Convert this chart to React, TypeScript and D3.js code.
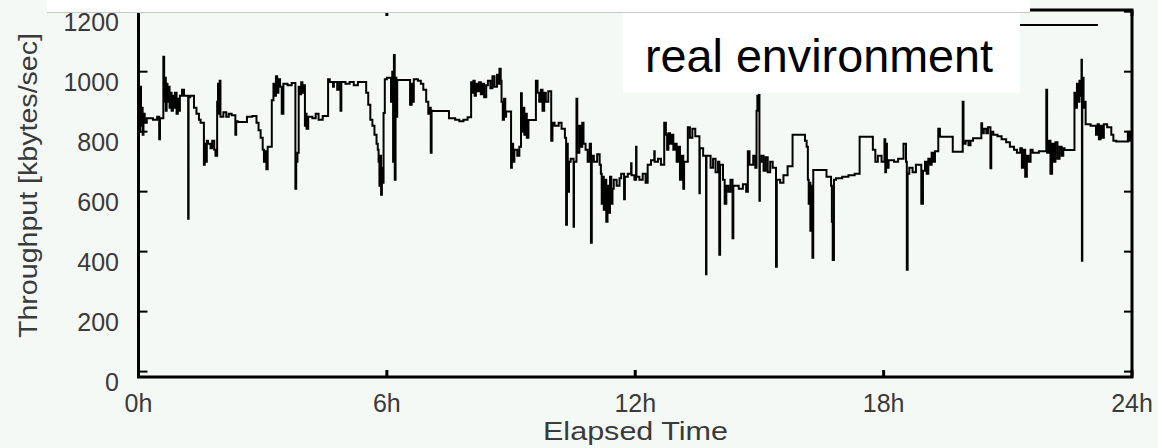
import React from "react";
import * as d3 from "d3";

// Throughput samples: [elapsed hours, kbytes/sec]
const morning: [number, number][] = [
  [0.00,900],[0.02,800],[0.04,950],[0.06,820],[0.08,880],[0.10,790],[0.12,860],[0.15,830],[0.20,845],[0.35,840],[0.45,850],[0.50,775],[0.52,845],
  [0.60,1050],[0.62,900],[0.64,980],[0.66,870],[0.68,960],[0.70,900],[0.72,950],[0.75,880],[0.78,930],[0.80,870],[0.83,920],[0.86,880],[0.88,930],[0.92,860],[0.95,910],[0.98,870],[1.00,920],
  [1.05,940],[1.10,920],[1.20,510],[1.21,915],[1.25,920],[1.34,880],[1.40,860],[1.46,840],[1.50,830],[1.58,690],[1.60,760],[1.62,700],[1.65,770],[1.68,760],[1.74,745],[1.78,770],[1.83,740],[1.86,720],
  [1.90,900],[1.92,960],[1.94,860],[1.96,970],[1.98,850],[2.05,865],[2.12,850],[2.18,860],[2.25,855],[2.34,790],[2.36,835],[2.40,832],[2.62,850],[2.75,852],[2.85,830],[2.90,805],[2.95,780],
  [3.00,740],[3.03,700],[3.06,735],[3.09,675],[3.12,750],[3.22,905],[3.26,960],[3.29,920],[3.32,985],[3.35,930],[3.38,975],[3.42,950],[3.46,860],[3.50,960],[3.60,955],[3.70,962],
  [3.79,610],[3.81,700],[3.84,730],[3.87,950],[3.90,925],[3.93,965],[3.96,930],[3.99,955],[4.02,820],[4.04,860],[4.06,810],[4.10,850],[4.20,845],[4.28,860],[4.35,840],[4.45,852],
  [4.58,975],[4.62,966],[4.70,950],[4.72,966],[4.80,940],[4.85,966],[4.88,870],[4.90,966],[5.00,960],[5.10,966],[5.20,955],[5.30,966],[5.50,930],[5.55,890],[5.60,840],[5.65,820],
  [5.70,790],[5.75,760],[5.78,740],[5.80,700],[5.82,620],[5.84,720],[5.86,590],[5.88,680],[5.90,630],[5.92,862],[5.95,975],[6.00,980],[6.10,900],[6.13,1000],[6.15,700],[6.17,1056],[6.19,640],[6.21,980],[6.23,850],
  [6.25,972],[6.56,890],[6.60,960],[6.62,900],[6.65,975],[6.75,970],[6.82,960],[6.88,940],[6.95,900],[7.00,860],[7.04,880],[7.06,730],[7.08,870],[7.10,869],[7.50,845],[7.65,840],[7.75,835],[7.85,840],[7.95,848],
];

const midday: [number, number][] = [
  [8.035,965],[8.06,930],[8.09,970],[8.12,920],[8.15,960],[8.19,935],[8.23,965],[8.27,925],[8.31,960],[8.35,915],[8.40,955],[8.44,970],[8.50,945],[8.55,985],[8.60,950],[8.66,990],[8.70,960],[8.72,1010],[8.75,970],
  [8.77,900],[8.80,840],[8.83,910],[8.86,850],[8.88,867],[9.00,680],[9.02,760],[9.05,700],[9.08,740],[9.15,720],[9.20,750],[9.24,928],[9.26,800],[9.29,880],[9.32,790],[9.35,860],[9.38,780],[9.42,839],
  [9.60,970],[9.64,930],[9.68,900],[9.72,940],[9.76,870],[9.80,930],[9.84,900],[9.90,935],[9.97,770],[10.00,830],[10.05,820],[10.15,830],[10.22,810],[10.30,780],[10.33,490],[10.35,760],[10.37,600],[10.40,700],
  [10.44,710],[10.51,483],[10.52,700],[10.58,910],[10.60,730],[10.65,820],[10.68,750],[10.72,830],[10.75,760],[10.80,740],[10.85,700],[10.90,760],[10.93,430],[10.95,720],[11.00,700],[11.08,725],[11.14,690],
  [11.17,660],[11.19,560],[11.21,650],[11.24,540],[11.27,640],[11.30,500],[11.33,620],[11.36,530],[11.39,650],[11.42,560],[11.45,610],[11.48,640],[11.55,620],[11.62,645],[11.66,660],[11.73,575],[11.75,650],
  [11.82,660],[11.90,695],[11.91,655],[11.98,640],[12.02,750],[12.03,650],[12.10,640],[12.18,660],[12.25,630],[12.30,690],[12.38,705],[12.46,735],[12.47,700],[12.55,710],[12.62,690],
  [12.70,830],[12.74,790],[12.77,740],[12.80,795],[12.84,760],[12.88,790],[12.92,740],[12.96,760],[13.00,700],[13.04,750],[13.08,640],[13.12,720],[13.16,610],[13.18,700],[13.27,815],[13.32,780],[13.38,810],[13.45,785],
  [13.55,595],[13.56,745],[13.64,720],[13.71,325],[13.72,720],[13.82,680],[13.88,710],[13.94,665],[14.00,700],[14.03,390],[14.05,690],[14.12,640],[14.16,560],[14.20,620],[14.25,600],[14.30,640],[14.35,445],[14.37,620],
  [14.50,610],[14.60,625],[14.68,600],[14.72,735],[14.76,690],[14.85,720],[14.90,680],[14.93,870],[14.95,920],[14.97,870],[14.99,922],[15.00,570],[15.01,700],[15.05,720],[15.10,670],[15.15,715],[15.20,665],
  [15.26,700],[15.32,680],[15.40,350],[15.42,640],[15.50,630],[15.58,655],[15.68,685],[15.80,790],
];

const evening: [number, number][] = [
  [16.10,770],[16.14,750],[16.17,640],[16.19,560],[16.21,630],[16.23,470],[16.25,620],[16.28,380],[16.30,672],[16.62,650],[16.73,620],[16.75,500],[16.77,372],[16.80,640],[16.85,645],[17.00,650],[17.15,655],[17.30,660],
  [17.42,783],[17.74,740],[17.80,700],[17.86,720],[17.95,700],[18.02,775],[18.04,665],[18.06,760],[18.08,680],[18.12,705],[18.25,700],[18.35,710],[18.48,760],[18.54,700],[18.56,340],[18.58,660],[18.62,680],[18.70,665],[18.78,690],
  [18.91,560],[18.95,670],[19.00,700],[19.04,660],[19.08,710],[19.12,690],[19.16,730],[19.20,700],[19.24,735],[19.32,810],[19.36,783],[19.67,733],[19.91,900],[19.93,760],[19.98,770],[20.05,755],[20.10,770],[20.16,778],
  [20.36,828],[20.38,795],[20.42,810],[20.48,795],[20.52,815],[20.58,678],[20.60,800],[20.65,790],[20.75,785],[20.85,775],[20.96,765],[21.05,750],[21.15,740],[21.22,730],[21.30,745],[21.34,680],[21.38,740],[21.42,650],
  [21.46,720],[21.50,700],[21.55,740],[21.60,730],[21.75,735],[21.93,940],[21.95,730],[21.99,770],[22.03,660],[22.07,760],[22.11,700],[22.15,765],[22.20,710],[22.25,750],[22.30,720],[22.34,745],[22.37,739],
  [22.61,930],[22.64,880],[22.67,960],[22.70,900],[22.73,970],[22.76,920],[22.78,1040],[22.79,370],[22.80,980],[22.83,880],[22.85,900],[22.88,825],[23.00,820],[23.13,790],[23.17,825],[23.20,775],[23.24,820],[23.28,780],
  [23.32,825],[23.40,815],[23.50,790],[23.55,770],[23.62,767],[23.90,800],[23.93,770],[23.96,795],[23.98,780],[24.00,780],
];

const yTicks = [0, 200, 400, 600, 800, 1000, 1200];
const xTicks = [0, 6, 12, 18, 24];
const xTickLabels = ["0h", "6h", "12h", "18h", "24h"];
const xTitle = "Elapsed Time";
const yTitle = "Throughput [kbytes/sec]";
const seriesLabel = "real environment";

const W = 1158;
const H = 448;
const BG = "#f5f9f6";
const LABEL = "#3a3a3a";
const FONT = "'Liberation Sans', Arial, Helvetica, sans-serif";

export default function App() {
  const x = d3.scaleLinear().domain([0, 24]).range([138.5, 1132]);
  const y = d3.scaleLinear().domain([-18, 1200]).range([377, 11.7]);
  const data = [...morning, ...midday, ...evening];
  const line = d3
    .line<[number, number]>()
    .x((d) => x(d[0]))
    .y((d) => y(d[1]))
    .curve(d3.curveStepAfter);

  const [x0, x1] = x.range();
  const yBot = y(-18);
  const yTop = 10;

  return (
    <svg
      width={W}
      height={H}
      style={{ position: "absolute", left: 0, top: 0, display: "block" }}
      fontFamily={FONT}
    >
      <defs>
        <clipPath id="plotclip">
          <rect x={x0} y={yTop} width={x1 - x0} height={yBot - yTop} />
        </clipPath>
      </defs>
      <rect x={0} y={0} width={W} height={H} fill={BG} />

      <path
        d={line(data) || ""}
        fill="none"
        stroke="#000"
        strokeWidth={2}
        strokeLinejoin="miter"
        clipPath="url(#plotclip)"
      />

      {/* frame */}
      <rect x={x0} y={yTop} width={x1 - x0} height={yBot - yTop} fill="none" stroke="#000" strokeWidth={3} />

      {/* y ticks */}
      {yTicks.map((t) => (
        <g key={"y" + t}>
          <line x1={x0} x2={x0 + 9} y1={y(t)} y2={y(t)} stroke="#000" strokeWidth={2} />
          <line x1={x1} x2={x1 - 8} y1={y(t)} y2={y(t)} stroke="#000" strokeWidth={2} />
          <text x={119} y={y(t) + 19} textAnchor="end" fontSize={25} fill={LABEL}>
            {t}
          </text>
        </g>
      ))}

      {/* x ticks */}
      {xTicks.map((t, i) => (
        <g key={"x" + t}>
          <line x1={x(t)} x2={x(t)} y1={yBot} y2={yBot - 7} stroke="#000" strokeWidth={3} />
          <line x1={x(t)} x2={x(t)} y1={yTop} y2={yTop + 6} stroke="#000" strokeWidth={3} />
          <text x={x(t)} y={412} textAnchor="middle" fontSize={25} fill={LABEL}>
            {xTickLabels[i]}
          </text>
        </g>
      ))}

      <text x={635.5} y={440} textAnchor="middle" fontSize={25} fill={LABEL} textLength={185} lengthAdjust="spacingAndGlyphs">
        {xTitle}
      </text>
      <text
        transform={`translate(37,185.5) rotate(-90)`}
        textAnchor="middle"
        fontSize={26}
        fill={LABEL}
        textLength={305}
        lengthAdjust="spacingAndGlyphs"
      >
        {yTitle}
      </text>

      {/* white title band (cropped slide header) */}
      <rect x={47} y={0} width={983} height={12} fill="#ffffff" />
      <line x1={47} x2={1030} y1={12.5} y2={12.5} stroke="#c8c8c8" strokeWidth={1} />

      {/* key: label box and sample line */}
      <rect x={623} y={13} width={397} height={80} fill="#ffffff" />
      <line x1={1020} x2={1098} y1={25} y2={25} stroke="#000" strokeWidth={2} />
      <text x={645} y={72} fontSize={46} fill="#000" textLength={348} lengthAdjust="spacingAndGlyphs">
        {seriesLabel}
      </text>
    </svg>
  );
}
